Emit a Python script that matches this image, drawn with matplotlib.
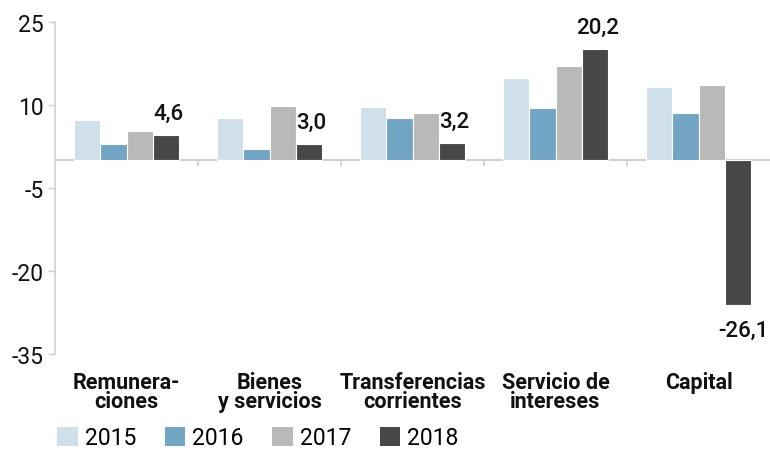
import matplotlib
matplotlib.use("Agg")
import matplotlib.pyplot as plt
import matplotlib.patches as mpatches
import numpy as np

plt.rcParams['font.family'] = ['Roboto', 'DejaVu Sans']

categories = ["Remunera-\nciones", "Bienes\ny servicios", "Transferencias\ncorrientes",
              "Servicio de\nintereses", "Capital"]
years = ["2015", "2016", "2017", "2018"]
v2015 = [7.3, 7.6, 9.6, 14.9, 13.3]
v2016 = [3.0, 2.0, 7.6, 9.4, 8.6]
v2017 = [5.3, 9.9, 8.6, 17.0, 13.6]
v2018 = [4.6, 3.0, 3.2, 20.2, -26.1]
labels2018 = ["4,6", "3,0", "3,2", "20,2", "-26,1"]
yticks = [25, 10, -5, -20, -35]

colors = ["#cfe0ea", "#72a5c3", "#b9b9b9", "#474747"]
series = [v2015, v2016, v2017, v2018]

fig = plt.figure(figsize=(7.7, 4.52), dpi=100)
ax = fig.add_axes([55/770, 1-355/452, 1-55/770, (355-23)/452])

x = np.arange(len(categories))
w = 0.183
for i, (vals, c) in enumerate(zip(series, colors)):
    ax.bar(x + (i - 1.5) * w, vals, width=w, color=c, edgecolor='white', linewidth=0.8, zorder=2)

for xi, v, lab in zip(x, v2018, labels2018):
    xc = xi + 1.5 * w + 0.02
    if v >= 0:
        ax.annotate(lab, (xc, v), xytext=(0, 8), textcoords='offset points',
                    ha='center', va='bottom', fontsize=16, fontweight='medium', color='#111111')
    else:
        ax.annotate(lab, (xc, v), xytext=(2, -11), textcoords='offset points',
                    ha='center', va='top', fontsize=16, fontweight='medium', color='#111111')

ax.set_xlim(-0.5, len(categories) - 0.5)
ax.set_ylim(-35, 25)
ax.set_yticks(yticks)
ax.set_yticklabels([str(t) for t in yticks], fontsize=16.5, color='#111111')
ax.tick_params(axis='y', length=5, width=1, color='#d0d0d0', pad=3)

ax.set_xticks(x)
ax.set_xticklabels(categories, fontsize=15.5, fontweight='bold', linespacing=0.85, color='#111111')
ax.tick_params(axis='x', length=0, pad=12)

for s in ['top', 'right', 'bottom']:
    ax.spines[s].set_visible(False)
ax.spines['left'].set_color('#d0d0d0')
ax.spines['left'].set_linewidth(1.2)

ax.axhline(0, color='#d0d0d0', linewidth=1.5, zorder=1)
ax.vlines(x[1:] - 0.5, -1.1, 0, color='#d0d0d0', linewidth=1.2, zorder=1)

handles = [mpatches.Patch(facecolor=c, edgecolor='none', label=y) for c, y in zip(colors, years)]
fig.legend(handles=handles, loc='center left', bbox_to_anchor=(57/770, 1-439/452),
           ncol=4, frameon=False, fontsize=16.5, handlelength=0.9, handleheight=0.9,
           handletextpad=0.3, columnspacing=1.25, borderpad=0, borderaxespad=0)

fig.savefig("out.png", dpi=100)
